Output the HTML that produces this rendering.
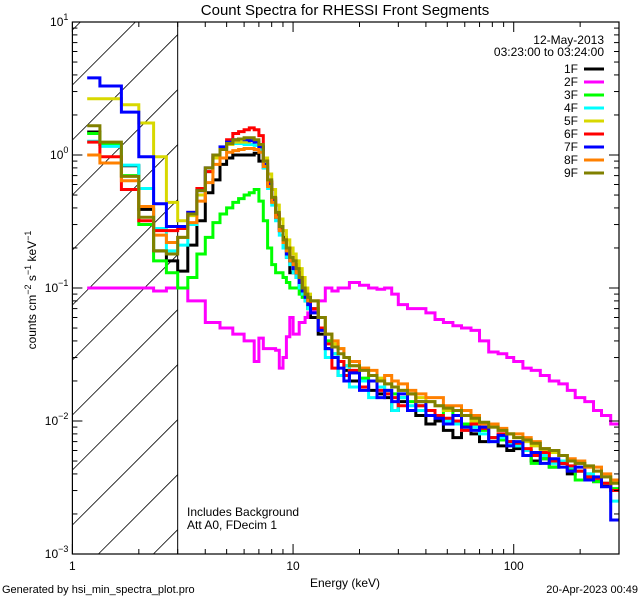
<!DOCTYPE html>
<html><head><meta charset="utf-8"><style>
html,body{margin:0;padding:0;background:#fff;width:640px;height:600px;overflow:hidden;}
svg{display:block;font-family:"Liberation Sans",sans-serif;}
</style></head><body>
<svg id="chart" width="640" height="600" viewBox="0 0 640 600" xmlns="http://www.w3.org/2000/svg">
<rect x="0" y="0" width="640" height="600" fill="#fff"/>
<text x="345" y="15" font-size="15" text-anchor="middle">Count Spectra for RHESSI Front Segments</text>
<g id="hatch"></g>
<g id="series"></g>
<g id="axes"></g>
<text x="345" y="587" font-size="12" text-anchor="middle">Energy (keV)</text>
<text transform="translate(36,290) rotate(-90)" font-size="12" text-anchor="middle">counts cm<tspan dy="-5" font-size="9">−2</tspan><tspan dy="5"> s</tspan><tspan dy="-5" font-size="9">−1</tspan><tspan dy="5"> keV</tspan><tspan dy="-5" font-size="9">−1</tspan></text>
<text x="2" y="593" font-size="11">Generated by hsi_min_spectra_plot.pro</text>
<text x="638" y="593" font-size="11" text-anchor="end">20-Apr-2023 00:49</text>
<text x="187" y="516" font-size="12">Includes Background</text>
<text x="187" y="529" font-size="12">Att A0, FDecim 1</text>
<text x="604" y="44" font-size="12" text-anchor="end">12-May-2013</text>
<text x="604" y="56" font-size="12" text-anchor="end">03:23:00 to 03:24:00</text>
<g id="legend"></g>
</svg>
<script>
const edges = [1.167,1.333,1.667,2,2.333,2.667,3,
 3.333,3.667,4,4.333,4.667,5,5.333,5.667,6,6.333,6.667,7,7.333,7.667,8,8.333,8.667,9,9.333,9.667,10,10.333,10.667,11,11.333,11.667,12,
 13,14,15,16,17,18,20,22,24,26,28,30,33,36,40,44,48,53,58,64,70,77,85,93,100,110,120,132,145,160,175,190,210,230,250,275,300];
const labels = ["1F","2F","3F","4F","5F","6F","7F","8F","9F"];
const colors = ["#000000","#ff00ff","#00ff00","#00ffff","#d8d800","#ff0000","#0000ff","#ff8000","#808000"];
const s1F = [1.49,1.2,0.83,0.39,0.19,0.16,
 0.134,0.21,0.32,0.52,0.65,0.85,0.95,1.0,1.0,1.0,1.0,1.03,0.9,0.8,0.63,0.47,0.34,0.28,0.24,0.17,0.13,0.14,0.12,0.1,0.09,0.08,0.07,
 0.06,0.045,0.035,0.03,0.022,0.024,0.02,0.018,0.017,0.016,0.015,0.012,0.014,0.012,0.011,0.0095,0.01,0.0085,0.0075,0.009,0.008,0.007,0.0075,0.0065,0.006,0.0062,0.0055,0.005,0.0052,0.0045,0.0048,0.004,0.0042,0.0038,0.0035,0.0033,0.003];
const s2F = [0.1,0.1,0.1,0.1,0.095,0.1,
 0.1,0.08,0.08,0.055,0.055,0.05,0.05,0.045,0.045,0.04,0.04,0.028,0.042,0.035,0.035,0.035,0.034,0.025,0.03,0.043,0.06,0.045,0.045,0.055,0.055,0.06,0.065,
 0.068,0.08,0.1,0.095,0.1,0.1,0.11,0.105,0.1,0.098,0.1,0.09,0.075,0.07,0.07,0.065,0.058,0.055,0.052,0.05,0.048,0.04,0.033,0.032,0.03,0.028,0.025,0.024,0.022,0.02,0.019,0.017,0.015,0.014,0.012,0.011,0.0095];
const s3F = [1.45,1.2,0.7,0.3,0.16,0.13,
 0.1,0.12,0.18,0.24,0.31,0.36,0.4,0.44,0.47,0.5,0.52,0.55,0.45,0.32,0.2,0.15,0.13,0.13,0.12,0.11,0.1,0.1,0.1,0.09,0.085,0.08,0.07,
 0.07,0.05,0.04,0.032,0.028,0.026,0.023,0.021,0.02,0.018,0.017,0.016,0.015,0.014,0.013,0.012,0.011,0.012,0.01,0.0095,0.009,0.0085,0.0075,0.0072,0.007,0.0065,0.006,0.0048,0.0052,0.0045,0.005,0.0044,0.0036,0.004,0.0035,0.0034,0.0031];
const s4F = [1.27,1.16,0.84,0.56,0.28,0.19,
 0.21,0.3,0.5,0.75,0.95,1.1,1.2,1.22,1.22,1.2,1.2,1.18,1.1,0.8,0.56,0.42,0.32,0.25,0.2,0.17,0.15,0.13,0.12,0.1,0.09,0.08,0.07,
 0.07,0.05,0.03,0.032,0.022,0.026,0.018,0.02,0.015,0.018,0.016,0.012,0.015,0.013,0.012,0.011,0.011,0.01,0.0095,0.0085,0.009,0.008,0.007,0.0075,0.0068,0.0065,0.006,0.0055,0.0055,0.0048,0.005,0.0045,0.0042,0.004,0.0037,0.0034,0.0025];
const s5F = [2.65,2.65,2.39,1.74,0.97,0.44,
 0.32,0.35,0.5,0.75,0.95,1.1,1.2,1.25,1.25,1.25,1.28,1.25,1.15,0.95,0.72,0.55,0.42,0.33,0.27,0.23,0.2,0.18,0.16,0.14,0.12,0.1,0.09,
 0.08,0.06,0.045,0.038,0.035,0.03,0.026,0.025,0.022,0.021,0.019,0.018,0.017,0.016,0.015,0.014,0.013,0.012,0.012,0.011,0.01,0.0095,0.009,0.0085,0.008,0.0075,0.007,0.0065,0.006,0.0058,0.0055,0.005,0.0048,0.0045,0.0042,0.0038,0.0035];
const s6F = [1.25,0.97,0.55,0.32,0.27,0.27,
 0.28,0.37,0.56,0.75,1.0,1.12,1.3,1.45,1.5,1.55,1.6,1.55,1.4,0.9,0.62,0.47,0.36,0.28,0.23,0.2,0.17,0.15,0.13,0.12,0.1,0.09,0.08,
 0.07,0.05,0.038,0.025,0.028,0.022,0.024,0.018,0.02,0.017,0.016,0.015,0.013,0.016,0.013,0.012,0.011,0.0105,0.01,0.0085,0.0095,0.0088,0.0075,0.008,0.007,0.0068,0.0062,0.0055,0.0058,0.005,0.0048,0.0046,0.0042,0.0038,0.0037,0.0034,0.003];
const s7F = [3.8,3.3,2.1,0.97,0.43,0.29,
 0.29,0.37,0.54,0.8,1.0,1.15,1.25,1.3,1.32,1.3,1.28,1.25,1.15,0.85,0.6,0.45,0.34,0.27,0.22,0.18,0.16,0.14,0.13,0.11,0.095,0.085,0.075,
 0.065,0.048,0.035,0.03,0.025,0.02,0.023,0.017,0.02,0.015,0.017,0.014,0.016,0.012,0.014,0.011,0.0105,0.0095,0.011,0.009,0.0085,0.009,0.007,0.0078,0.0065,0.007,0.0055,0.0058,0.0048,0.0052,0.0045,0.0042,0.0045,0.0036,0.0038,0.0032,0.0018];
const s8F = [1.0,0.87,0.64,0.41,0.25,0.22,
 0.24,0.31,0.45,0.62,0.85,0.95,1.05,1.08,1.1,1.12,1.12,1.1,1.05,0.82,0.58,0.44,0.34,0.27,0.22,0.19,0.16,0.15,0.13,0.12,0.1,0.09,0.08,
 0.08,0.06,0.045,0.04,0.035,0.03,0.028,0.025,0.024,0.02,0.022,0.02,0.019,0.017,0.016,0.015,0.015,0.013,0.013,0.012,0.011,0.0095,0.0095,0.0088,0.008,0.008,0.0075,0.007,0.0062,0.006,0.0055,0.0052,0.005,0.0045,0.0045,0.004,0.0036];
const s9F = [1.66,1.25,0.69,0.34,0.19,0.18,
 0.24,0.36,0.54,0.8,1.0,1.1,1.22,1.3,1.32,1.35,1.35,1.3,1.2,0.9,0.65,0.48,0.37,0.29,0.23,0.2,0.17,0.16,0.14,0.12,0.1,0.09,0.085,
 0.08,0.06,0.045,0.036,0.032,0.03,0.026,0.024,0.022,0.02,0.019,0.018,0.017,0.016,0.014,0.014,0.013,0.0125,0.012,0.011,0.0105,0.0098,0.009,0.0085,0.008,0.0075,0.0072,0.0068,0.0062,0.006,0.0055,0.005,0.0048,0.0046,0.0042,0.0038,0.0034];
const seriesData = [s1F,s2F,s3F,s4F,s5F,s6F,s7F,s8F,s9F];
const xTickMajor = [1,10,100];
const xTickLabels = ["1","10","100"];
const yTickExp = [1,0,-1,-2,-3];

const NS="http://www.w3.org/2000/svg";
const L=72.4, R=619, T=22, B=554, XMAX=300;
const DEC=(R-L)/Math.log10(XMAX);
const YDEC=(B-T)/4;
function xs(e){return L+Math.log10(e)*DEC;}
function ys(v){return T+(1-Math.log10(v))*YDEC;}
function mk(tag,attrs,parent){const el=document.createElementNS(NS,tag);for(const k in attrs)el.setAttribute(k,attrs[k]);parent.appendChild(el);return el;}

const hatch=document.getElementById('hatch');
const XH=xs(3);
for(let k=-3;k<12;k++){
  const y0=140+55*k;
  const xa = y0>B ? L+(y0-B) : L;
  const xb = Math.min(XH, L+(y0-T));
  if(xa>=xb) continue;
  const ln=mk('line',{x1:xa,y1:y0-(xa-L),x2:xb,y2:y0-(xb-L),stroke:'#000','stroke-width':0.8},hatch);
  
  
}
const vl=mk('line',{x1:XH,y1:T,x2:XH,y2:B,stroke:'#000','stroke-width':1},hatch);



const sg=document.getElementById('series');
function clampY(y){return Math.max(T,Math.min(B,y));}
seriesData.forEach((vals,i)=>{
  let d='';
  for(let j=0;j<vals.length;j++){
    const x0=xs(edges[j]).toFixed(1), x1=Math.min(R,xs(edges[j+1])).toFixed(1), y=clampY(ys(vals[j])).toFixed(1);
    d+=(j===0?'M':'L')+x0+','+y+'L'+x1+','+y;
  }
  const p=mk('path',{d:d,fill:'none',stroke:colors[i],'stroke-width':3,'stroke-linejoin':'miter'},sg);
  
  
});

const ax=document.getElementById('axes');
const box=mk('rect',{x:L,y:T,width:R-L,height:B-T,fill:'none',stroke:'#000','stroke-width':1.2},ax);


for(let d=0;d<3;d++){
  for(let m=1;m<10;m++){
    const e=Math.pow(10,d)*m; if(e>XMAX)break;
    const x=xs(e); const len=m===1?10:5;
    mk('line',{x1:x,y1:B,x2:x,y2:B-len,stroke:'#000'},ax);
    mk('line',{x1:x,y1:T,x2:x,y2:T+len,stroke:'#000'},ax);
  }
}
xTickMajor.forEach((e,i)=>{
  const t=mk('text',{x:xs(e),y:B+16,'font-size':12,'text-anchor':'middle'},ax);
  t.textContent=xTickLabels[i];
  
  
});
for(let p=-3;p<=1;p++){
  for(let m=1;m<10;m++){
    const v=Math.pow(10,p)*m; if(v>10)break;
    const y=ys(v); const len=m===1?10:5;
    mk('line',{x1:L,y1:y,x2:L+len,y2:y,stroke:'#000'},ax);
    mk('line',{x1:R,y1:y,x2:R-len,y2:y,stroke:'#000'},ax);
  }
}
yTickExp.forEach(p=>{
  const t=mk('text',{x:L-4,y:ys(Math.pow(10,p))+4,'font-size':12,'text-anchor':'end'},ax);
  t.innerHTML='10<tspan dy="-6" font-size="9">'+(p<0?'−'+(-p):p)+'</tspan>';
  
  
});

const lg=document.getElementById('legend');
labels.forEach((lab,i)=>{
  const y=69+13*i;
  const t=mk('text',{x:578,y:y+4,'font-size':12,'text-anchor':'end'},lg);
  t.textContent=lab;
  
  
  const l=mk('line',{x1:584,y1:y,x2:604,y2:y,stroke:colors[i],'stroke-width':3},lg);
  
  
});
</script>
</body></html>
